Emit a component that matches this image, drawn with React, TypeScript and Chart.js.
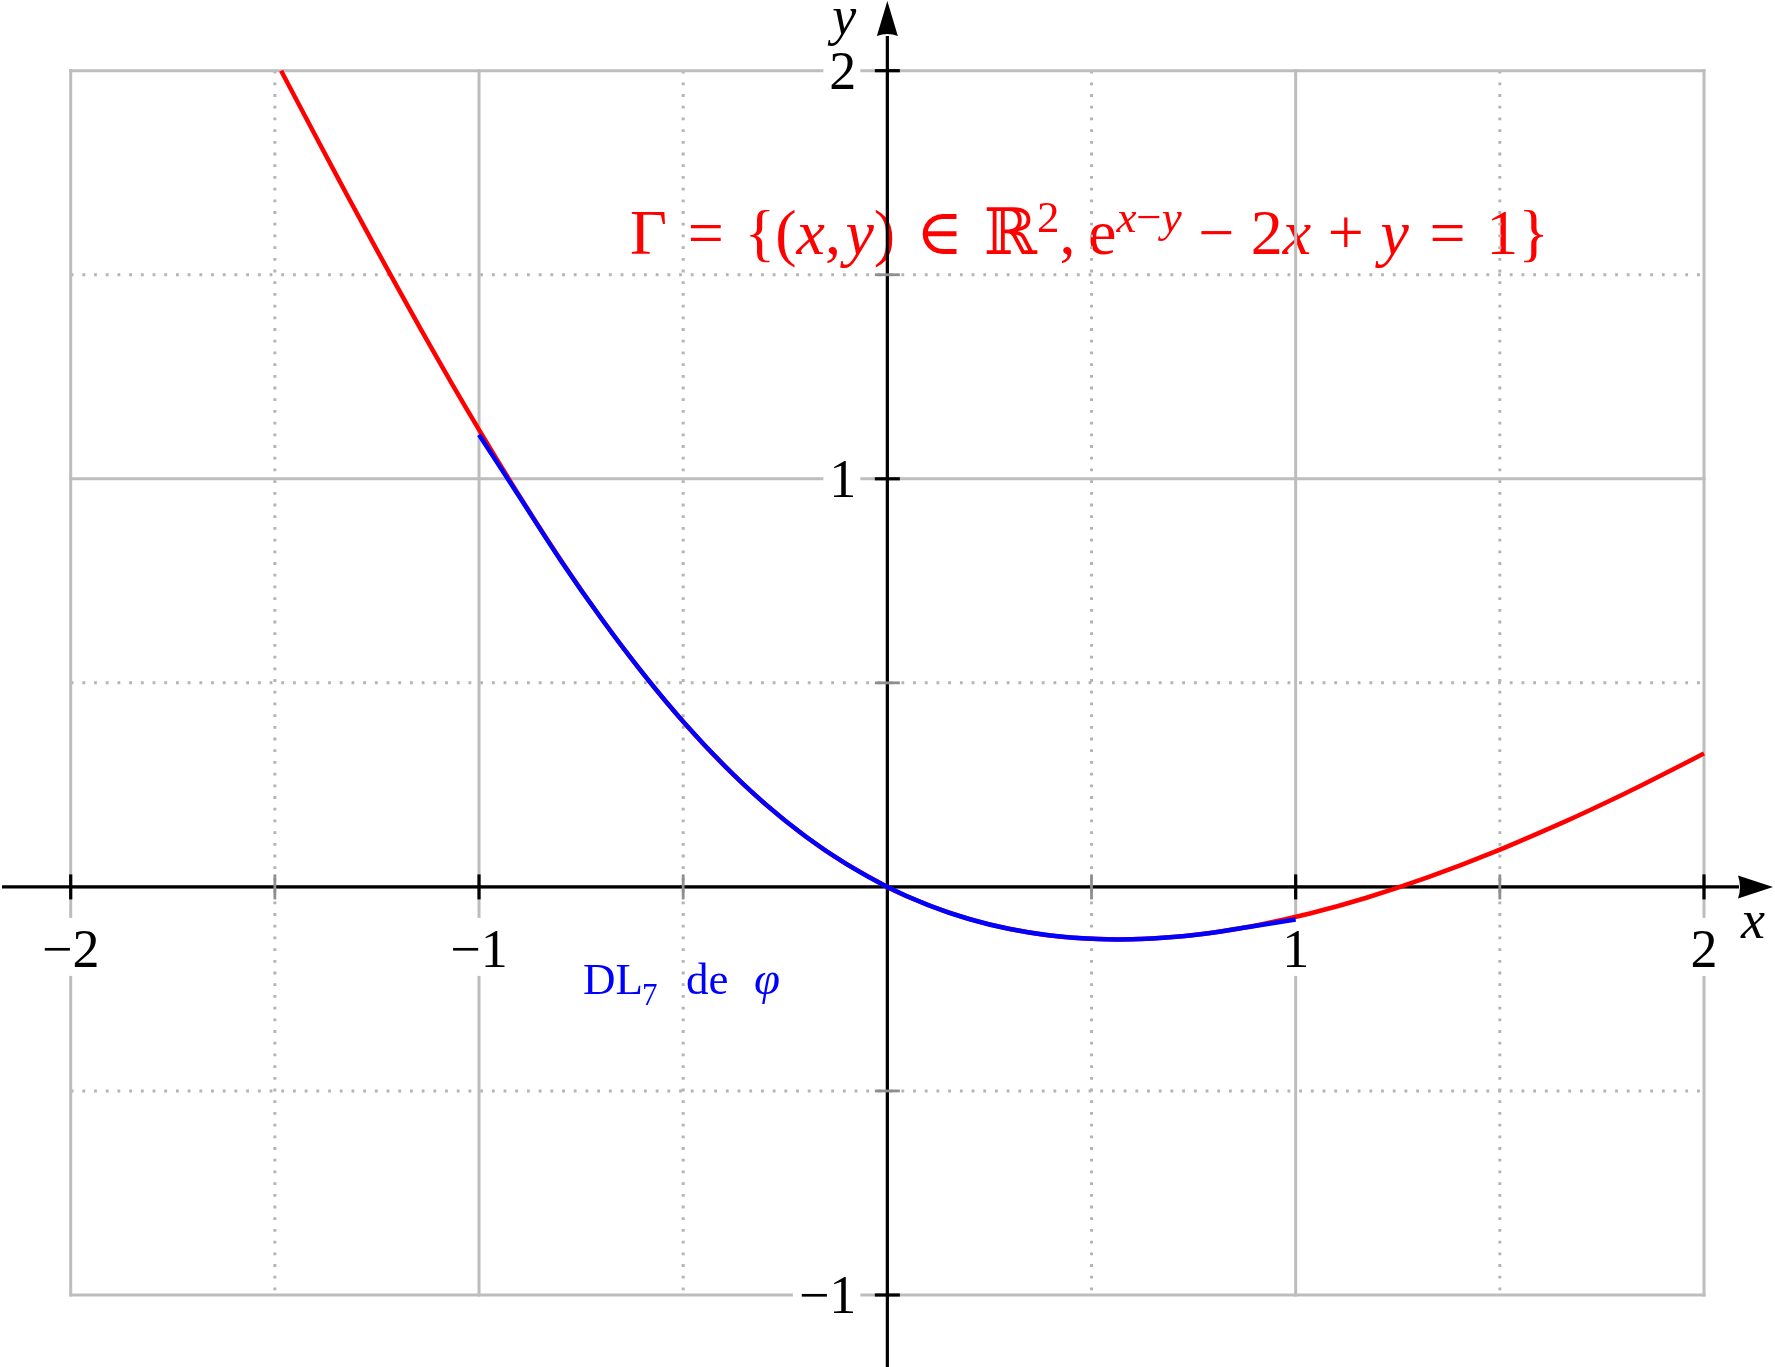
import React, { useEffect, useRef } from "react";
import { Chart, registerables } from "chart.js";

Chart.register(...registerables);

const W = 1775;
const H = 1367;

// Curve Γ (red)
const gammaX = [-1.4847, -1.3864, -1.3167, -1.2464, -1.1752, -1.1031, -1.0297, -0.9549, -0.8782, -0.7994, -0.7178, -0.6329, -0.544, -0.4502, -0.3504, -0.2432, -0.1271, 0, 0.0684, 0.1405, 0.2166, 0.2973, 0.3829, 0.474, 0.5713, 0.6752, 0.7865, 0.9061, 1.0347, 1.1734, 1.3231, 1.4851, 1.6606, 1.7538, 1.851, 1.9523, 2.0];
const gammaY = [2.0, 1.8136, 1.6833, 1.5536, 1.4248, 1.2969, 1.1703, 1.0451, 0.9218, 0.8006, 0.6822, 0.5671, 0.456, 0.3498, 0.2496, 0.1568, 0.0729, 0, -0.0316, -0.0595, -0.0834, -0.1027, -0.1171, -0.126, -0.1288, -0.1248, -0.1135, -0.0939, -0.0653, -0.0266, 0.0231, 0.0851, 0.1606, 0.2038, 0.251, 0.3023, 0.3272];

// DL7 de φ (blue)
const dlX = [-1, -0.9, -0.8, -0.7, -0.6, -0.5, -0.4, -0.3, -0.2, -0.1, 0, 0.1, 0.2, 0.3, 0.4, 0.5, 0.6, 0.7, 0.8, 0.9, 1];
const dlY = [1.108, 0.954, 0.8, 0.657, 0.525, 0.405, 0.298, 0.204, 0.1235, 0.0558, 0, -0.0445, -0.0786, -0.1033, -0.1192, -0.1273, -0.1283, -0.123, -0.1117, -0.0958, -0.08];

// Axes / grid
const xGridMajor = [-2, -1, 0, 1, 2];
const yGridMajor = [-1, 0, 1, 2];
const xGridMinor = [-1.5, -0.5, 0.5, 1.5];
const yGridMinor = [-0.5, 0.5, 1.5];
const xTickValues = [-2, -1, 1, 2];
const xTickLabels = ["−2", "−1", "1", "2"];
const yTickValues = [2, 1, -1];
const yTickLabels = ["2", "1", "−1"];

type Piece = { t: string; it?: boolean; sup?: boolean; gap?: number };
const gammaPieces: Piece[] = [
  { t: "Γ" },
  { t: "=", gap: 0.278 },
  { t: "{(", gap: 0.278 },
  { t: "x", it: true },
  { t: "," },
  { t: "y", it: true, gap: 0.06 },
  { t: ")" },
  { t: "∈", gap: 0.278 },
  { t: "ℝ", gap: 0.278 },
  { t: "2", sup: true },
  { t: "," },
  { t: "e", gap: 0.167 },
  { t: "x", it: true, sup: true },
  { t: "−", sup: true },
  { t: "y", it: true, sup: true },
  { t: "−", gap: 0.222 },
  { t: "2", gap: 0.222 },
  { t: "x", it: true },
  { t: "+", gap: 0.222 },
  { t: "y", it: true, gap: 0.222 },
  { t: "=", gap: 0.278 },
  { t: "1}", gap: 0.278 },
];

const FAMILY = "'Liberation Serif', 'DejaVu Serif', serif";

function drawGamma(ctx: CanvasRenderingContext2D, x0: number, baseline: number, targetW: number) {
  const s = 64;
  const fontOf = (p: Piece) => `${p.it ? "italic " : ""}${p.sup ? Math.round(s * 0.7) : s}px ${FAMILY}`;
  const widths = gammaPieces.map((p) => {
    ctx.font = fontOf(p);
    return ctx.measureText(p.t).width;
  });
  const glyphW = widths.reduce((a, b) => a + b, 0);
  const gapSum = gammaPieces.reduce((a, p) => a + (p.gap || 0), 0) * s;
  const k = Math.max(0.3, (targetW - glyphW) / gapSum);
  let x = x0;
  ctx.fillStyle = "#ff0000";
  ctx.textAlign = "left";
  ctx.textBaseline = "alphabetic";
  gammaPieces.forEach((p, i) => {
    x += (p.gap || 0) * s * k;
    ctx.font = fontOf(p);
    ctx.fillText(p.t, x, p.sup ? baseline - s * 0.34 : baseline);
    x += widths[i];
  });
}

const overlay = {
  id: "overlay",
  beforeDatasetsDraw(chart: any) {
    const ctx: CanvasRenderingContext2D = chart.ctx;
    const xs = chart.scales.x;
    const ys = chart.scales.y;
    const px = (v: number) => xs.getPixelForValue(v);
    const py = (v: number) => ys.getPixelForValue(v);
    const x0 = px(0);
    const y0 = py(0);
    ctx.save();

    // Red set label (under the grid)
    drawGamma(ctx, 630, 254, 919);

    // dotted minor grid
    ctx.strokeStyle = "#b4b4b4";
    ctx.lineWidth = 3;
    ctx.lineCap = "butt";
    ctx.setLineDash([2.8, 8.9]);
    xGridMinor.forEach((v) => {
      ctx.beginPath();
      ctx.moveTo(px(v), py(2));
      ctx.lineTo(px(v), py(-1));
      ctx.stroke();
    });
    yGridMinor.forEach((v) => {
      ctx.beginPath();
      ctx.moveTo(px(-2), py(v));
      ctx.lineTo(px(2), py(v));
      ctx.stroke();
    });
    ctx.setLineDash([]);

    // solid major grid
    ctx.strokeStyle = "#bdbdbd";
    ctx.lineWidth = 3;
    xGridMajor.forEach((v) => {
      ctx.beginPath();
      ctx.moveTo(px(v), py(2) - 1.5);
      ctx.lineTo(px(v), py(-1) + 1.5);
      ctx.stroke();
    });
    yGridMajor.forEach((v) => {
      ctx.beginPath();
      ctx.moveTo(px(-2) - 1.5, py(v));
      ctx.lineTo(px(2) + 1.5, py(v));
      ctx.stroke();
    });

    // tick labels with white boxes
    ctx.font = `54px ${FAMILY}`;
    ctx.textBaseline = "alphabetic";
    xTickValues.forEach((v, i) => {
      const t = xTickLabels[i];
      const tw = ctx.measureText(t).width;
      const cx = px(v);
      ctx.fillStyle = "#ffffff";
      ctx.fillRect(cx - tw / 2 - 6, y0 + 31, tw + 12, 58);
      ctx.fillStyle = "#000000";
      ctx.textAlign = "center";
      ctx.fillText(t, cx, y0 + 80);
    });
    yTickValues.forEach((v, i) => {
      const t = yTickLabels[i];
      const tw = ctx.measureText(t).width;
      const cy = py(v);
      const right = x0 - 31;
      ctx.fillStyle = "#ffffff";
      ctx.fillRect(right - tw - 6, cy - 28, tw + 10, 56);
      ctx.fillStyle = "#000000";
      ctx.textAlign = "right";
      ctx.fillText(t, right, cy + 18);
    });

    // axes
    ctx.strokeStyle = "#000000";
    ctx.fillStyle = "#000000";
    ctx.lineWidth = 3.2;
    ctx.beginPath();
    ctx.moveTo(2, y0);
    ctx.lineTo(W - 36, y0);
    ctx.stroke();
    ctx.beginPath();
    ctx.moveTo(x0, H);
    ctx.lineTo(x0, 36);
    ctx.stroke();
    // arrow heads
    ctx.beginPath();
    ctx.moveTo(W - 2, y0);
    ctx.lineTo(W - 37, y0 - 11.5);
    ctx.quadraticCurveTo(W - 33, y0, W - 37, y0 + 11.5);
    ctx.closePath();
    ctx.fill();
    ctx.beginPath();
    ctx.moveTo(x0, 1);
    ctx.lineTo(x0 - 10.5, 36);
    ctx.quadraticCurveTo(x0, 32, x0 + 10.5, 36);
    ctx.closePath();
    ctx.fill();

    // ticks
    ctx.lineWidth = 3.2;
    ctx.strokeStyle = "#000000";
    xTickValues.forEach((v) => {
      ctx.beginPath();
      ctx.moveTo(px(v), y0 - 12.5);
      ctx.lineTo(px(v), y0 + 12.5);
      ctx.stroke();
    });
    yTickValues.forEach((v) => {
      ctx.beginPath();
      ctx.moveTo(x0 - 12.5, py(v));
      ctx.lineTo(x0 + 12.5, py(v));
      ctx.stroke();
    });
    ctx.lineWidth = 2.8;
    ctx.strokeStyle = "#8e8e8e";
    xGridMinor.forEach((v) => {
      ctx.beginPath();
      ctx.moveTo(px(v), y0 - 12.5);
      ctx.lineTo(px(v), y0 + 12.5);
      ctx.stroke();
    });
    yGridMinor.forEach((v) => {
      ctx.beginPath();
      ctx.moveTo(x0 - 12.5, py(v));
      ctx.lineTo(x0 + 12.5, py(v));
      ctx.stroke();
    });

    // axis titles
    ctx.fillStyle = "#000000";
    ctx.font = `italic 54px ${FAMILY}`;
    ctx.textAlign = "center";
    ctx.fillText("y", x0 - 43, 34);
    ctx.fillText("x", W - 22, y0 + 51);

    // DL7 label (blue)
    ctx.fillStyle = "#0000ff";
    ctx.textAlign = "left";
    ctx.font = `45px ${FAMILY}`;
    ctx.fillText("DL", 583, 994);
    ctx.font = `31px ${FAMILY}`;
    ctx.fillText("7", 642, 1005);
    ctx.font = `45px ${FAMILY}`;
    ctx.fillText("de", 686, 994);
    ctx.font = `italic 47px ${FAMILY}`;
    ctx.fillText("φ", 754, 994);

    ctx.restore();
  },
};

export default function App() {
  const ref = useRef<HTMLCanvasElement | null>(null);
  useEffect(() => {
    document.body.style.margin = "0";
    const canvas = ref.current;
    if (!canvas) return;
    const chart = new Chart(canvas, {
      type: "scatter",
      data: {
        datasets: [
          {
            label: "DL7 de φ",
            data: dlX.map((x, i) => ({ x, y: dlY[i] })),
            showLine: true,
            borderColor: "#0000ff",
            backgroundColor: "#0000ff",
            borderWidth: 4.5,
            pointRadius: 0,
            tension: 0.35,
            clip: false,
          } as any,
          {
            label: "Γ",
            data: gammaX.map((x, i) => ({ x, y: gammaY[i] })),
            showLine: true,
            borderColor: "#ff0000",
            backgroundColor: "#ff0000",
            borderWidth: 4.5,
            pointRadius: 0,
            tension: 0.3,
            clip: false,
          } as any,
        ],
      },
      options: {
        responsive: false,
        animation: false,
        devicePixelRatio: 1,
        events: [],
        layout: { padding: { left: 70.7, right: 71, top: 70.7, bottom: 72 } },
        plugins: {
          legend: { display: false },
          tooltip: { enabled: false },
          title: { display: false },
        },
        scales: {
          x: { type: "linear", min: -2, max: 2, display: false },
          y: { type: "linear", min: -1, max: 2, display: false },
        },
      },
      plugins: [overlay],
    });
    return () => chart.destroy();
  }, []);
  return (
    <div style={{ width: W, height: H, background: "#ffffff" }}>
      <canvas ref={ref} width={W} height={H} style={{ display: "block" }} />
    </div>
  );
}
